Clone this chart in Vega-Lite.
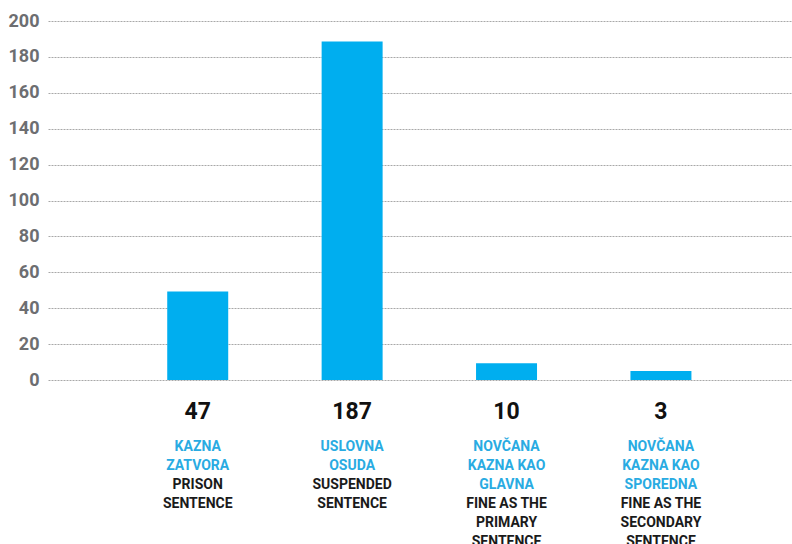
{
  "$schema": "https://vega.github.io/schema/vega-lite/v6.json",
  "padding": {"left": 8, "top": 12, "right": 0, "bottom": 0},
  "bounds": "flush",
  "spacing": 38.5,
  "config": {"view": {"stroke": null}, "font": "Roboto"},
  "datasets": {
    "bars": [
      {"category": "KAZNA ZATVORA", "value": 49.3, "count": 47},
      {"category": "USLOVNA OSUDA", "value": 188.6, "count": 187},
      {"category": "NOVČANA GLAVNA", "value": 9.3, "count": 10},
      {"category": "NOVČANA SPOREDNA", "value": 5, "count": 3}
    ],
    "lines": [
      {"category": "KAZNA ZATVORA", "line": 1, "kind": "hr", "text": "KAZNA"},
      {"category": "KAZNA ZATVORA", "line": 2, "kind": "hr", "text": "ZATVORA"},
      {"category": "KAZNA ZATVORA", "line": 3, "kind": "en", "text": "PRISON"},
      {"category": "KAZNA ZATVORA", "line": 4, "kind": "en", "text": "SENTENCE"},
      {"category": "USLOVNA OSUDA", "line": 1, "kind": "hr", "text": "USLOVNA"},
      {"category": "USLOVNA OSUDA", "line": 2, "kind": "hr", "text": "OSUDA"},
      {"category": "USLOVNA OSUDA", "line": 3, "kind": "en", "text": "SUSPENDED"},
      {"category": "USLOVNA OSUDA", "line": 4, "kind": "en", "text": "SENTENCE"},
      {"category": "NOVČANA GLAVNA", "line": 1, "kind": "hr", "text": "NOVČANA"},
      {"category": "NOVČANA GLAVNA", "line": 2, "kind": "hr", "text": "KAZNA KAO"},
      {"category": "NOVČANA GLAVNA", "line": 3, "kind": "hr", "text": "GLAVNA"},
      {"category": "NOVČANA GLAVNA", "line": 4, "kind": "en", "text": "FINE AS THE"},
      {"category": "NOVČANA GLAVNA", "line": 5, "kind": "en", "text": "PRIMARY"},
      {"category": "NOVČANA GLAVNA", "line": 6, "kind": "en", "text": "SENTENCE"},
      {"category": "NOVČANA SPOREDNA", "line": 1, "kind": "hr", "text": "NOVČANA"},
      {"category": "NOVČANA SPOREDNA", "line": 2, "kind": "hr", "text": "KAZNA KAO"},
      {"category": "NOVČANA SPOREDNA", "line": 3, "kind": "hr", "text": "SPOREDNA"},
      {"category": "NOVČANA SPOREDNA", "line": 4, "kind": "en", "text": "FINE AS THE"},
      {"category": "NOVČANA SPOREDNA", "line": 5, "kind": "en", "text": "SECONDARY"},
      {"category": "NOVČANA SPOREDNA", "line": 6, "kind": "en", "text": "SENTENCE"}
    ]
  },
  "vconcat": [
    {
      "width": 745,
      "height": 359,
      "data": {"name": "bars"},
      "mark": {"type": "bar", "color": "#00AEEF"},
      "encoding": {
        "x": {
          "field": "category", "type": "nominal", "sort": null,
          "scale": {"type": "band", "domain": ["KAZNA ZATVORA", "USLOVNA OSUDA", "NOVČANA GLAVNA", "NOVČANA SPOREDNA"], "paddingInner": 0.605, "paddingOuter": 0.715, "align": 0.54},
          "axis": null
        },
        "y": {
          "field": "value", "type": "quantitative",
          "scale": {"domain": [0, 200], "nice": false},
          "axis": {
            "values": [0, 20, 40, 60, 80, 100, 120, 140, 160, 180, 200],
            "grid": true, "gridDash": [2, 1], "gridColor": "#a8a8a8", "gridWidth": 1,
            "domain": false, "ticks": false, "title": null,
            "labelFontSize": 18, "labelFontWeight": "bold",
            "labelColor": "#6d6e71", "labelPadding": 9
          }
        }
      }
    },
    {
      "width": 745,
      "height": 133,
      "encoding": {
        "x": {
          "field": "category", "type": "nominal", "sort": null, "bandPosition": 0.5,
          "scale": {"type": "band", "domain": ["KAZNA ZATVORA", "USLOVNA OSUDA", "NOVČANA GLAVNA", "NOVČANA SPOREDNA"], "paddingInner": 0.605, "paddingOuter": 0.715, "align": 0.54},
          "axis": null
        }
      },
      "layer": [
        {
          "data": {"name": "bars"},
          "mark": {"type": "text", "fontSize": 23, "fontWeight": "bold", "color": "#111111", "baseline": "middle", "dy": -16},
          "encoding": {
            "y": {"datum": 0, "type": "ordinal", "scale": {"domain": [0, 1, 2, 3, 4, 5, 6], "paddingInner": 0, "paddingOuter": 0}, "axis": null},
            "text": {"field": "count", "type": "quantitative"}
          }
        },
        {
          "data": {"name": "lines"},
          "mark": {"type": "text", "fontSize": 14, "fontWeight": "bold", "baseline": "middle"},
          "encoding": {
            "y": {"field": "line", "type": "ordinal", "scale": {"domain": [0, 1, 2, 3, 4, 5, 6], "paddingInner": 0, "paddingOuter": 0}, "axis": null},
            "text": {"field": "text", "type": "nominal"},
            "color": {"field": "kind", "type": "nominal", "scale": {"domain": ["hr", "en"], "range": ["#29abe2", "#1a1a1a"]}, "legend": null}
          }
        }
      ]
    }
  ]
}
